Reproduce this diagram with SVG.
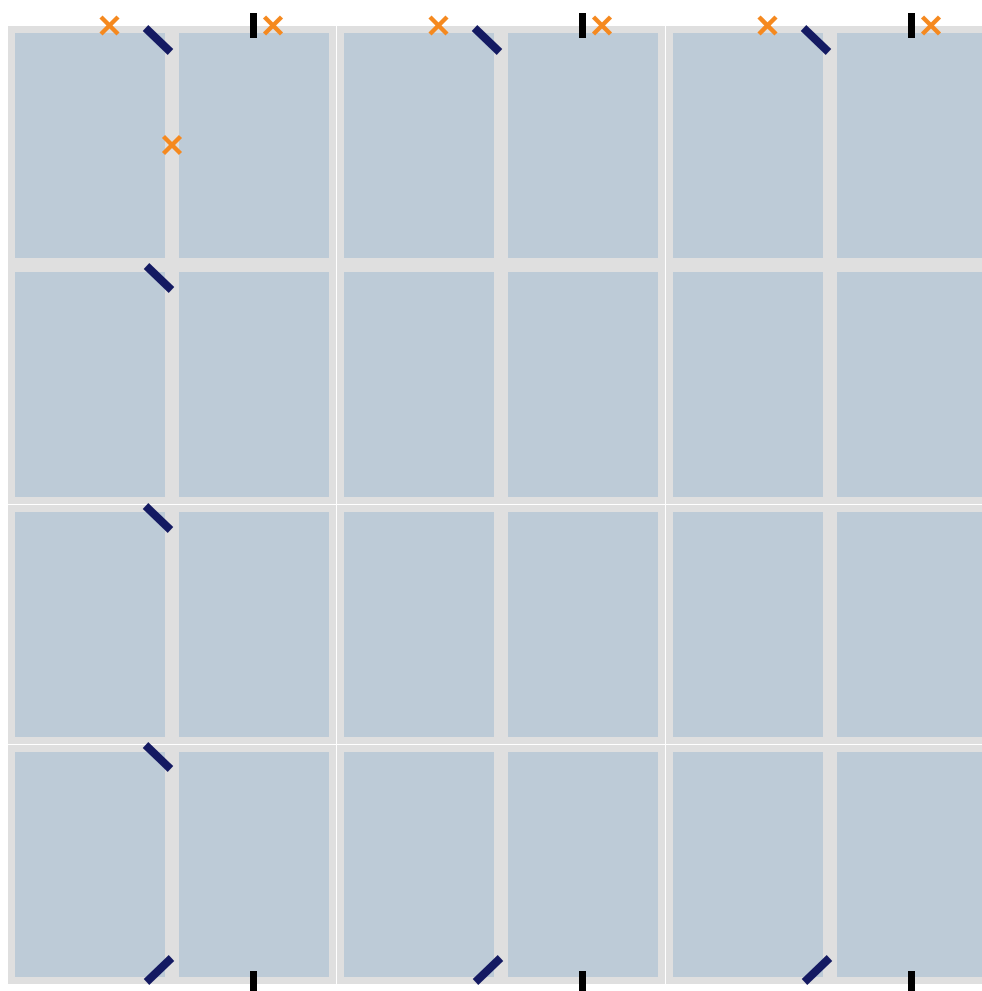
<svg xmlns="http://www.w3.org/2000/svg" width="982" height="991" viewBox="0 0 982 991">
<style>
.bg{fill:#dfdfdf}
.sep{fill:#ffffff}
.p{fill:#bdcbd7}
.nv{stroke:#141a62;stroke-width:8;stroke-linecap:butt}
.bk{fill:#000000}
.ox{stroke:#f5891f;stroke-width:4.5;stroke-linecap:butt}
</style>
<defs>
<g id="xm"><line class="ox" x1="-8.5" y1="-8.5" x2="8.5" y2="8.5"/><line class="ox" x1="-8.5" y1="8.5" x2="8.5" y2="-8.5"/></g>
<line id="nb" class="nv" x1="-12.5" y1="-12" x2="12.5" y2="12"/>
<line id="nf" class="nv" x1="-12.5" y1="12" x2="12.5" y2="-12"/>
</defs>
<rect width="982" height="991" fill="#ffffff"/>
<g id="floor">
<rect class="bg" x="8" y="26" width="990" height="958"/>
<rect class="sep" x="336" y="26" width="1" height="958"/>
<rect class="sep" x="665" y="26" width="1" height="958"/>
<rect class="sep" x="8" y="504" width="990" height="1"/>
<rect class="sep" x="8" y="744" width="990" height="1"/>
</g>
<g id="panels">
<g id="row1">
<rect class="p" x="15" y="33" width="150" height="225"/><rect class="p" x="179" y="33" width="150" height="225"/>
<rect class="p" x="344" y="33" width="150" height="225"/><rect class="p" x="508" y="33" width="150" height="225"/>
<rect class="p" x="673" y="33" width="150" height="225"/><rect class="p" x="837" y="33" width="150" height="225"/>
</g>
<g id="row2">
<rect class="p" x="15" y="272" width="150" height="225"/><rect class="p" x="179" y="272" width="150" height="225"/>
<rect class="p" x="344" y="272" width="150" height="225"/><rect class="p" x="508" y="272" width="150" height="225"/>
<rect class="p" x="673" y="272" width="150" height="225"/><rect class="p" x="837" y="272" width="150" height="225"/>
</g>
<g id="row3">
<rect class="p" x="15" y="512" width="150" height="225"/><rect class="p" x="179" y="512" width="150" height="225"/>
<rect class="p" x="344" y="512" width="150" height="225"/><rect class="p" x="508" y="512" width="150" height="225"/>
<rect class="p" x="673" y="512" width="150" height="225"/><rect class="p" x="837" y="512" width="150" height="225"/>
</g>
<g id="row4">
<rect class="p" x="15" y="752" width="150" height="225"/><rect class="p" x="179" y="752" width="150" height="225"/>
<rect class="p" x="344" y="752" width="150" height="225"/><rect class="p" x="508" y="752" width="150" height="225"/>
<rect class="p" x="673" y="752" width="150" height="225"/><rect class="p" x="837" y="752" width="150" height="225"/>
</g>
</g>
<g id="markers">
<use href="#nb" x="158" y="40"/><use href="#nb" x="487" y="40"/><use href="#nb" x="816" y="40"/>
<use href="#nb" x="159" y="278"/><use href="#nb" x="158" y="518"/><use href="#nb" x="158" y="757"/>
<use href="#nf" x="159" y="970"/><use href="#nf" x="488" y="970"/><use href="#nf" x="817" y="970"/>
<rect class="bk" x="250" y="13" width="7" height="25"/><rect class="bk" x="579" y="13" width="7" height="25"/><rect class="bk" x="908" y="13" width="7" height="25"/>
<rect class="bk" x="250" y="971" width="7" height="25"/><rect class="bk" x="579" y="971" width="7" height="25"/><rect class="bk" x="908" y="971" width="7" height="25"/>
<use href="#xm" x="109.5" y="25.5"/><use href="#xm" x="273" y="25.5"/>
<use href="#xm" x="438.5" y="25.5"/><use href="#xm" x="602" y="25.5"/>
<use href="#xm" x="767.5" y="25.5"/><use href="#xm" x="931" y="25.5"/>
<use href="#xm" x="172" y="145"/>
</g>
</svg>
